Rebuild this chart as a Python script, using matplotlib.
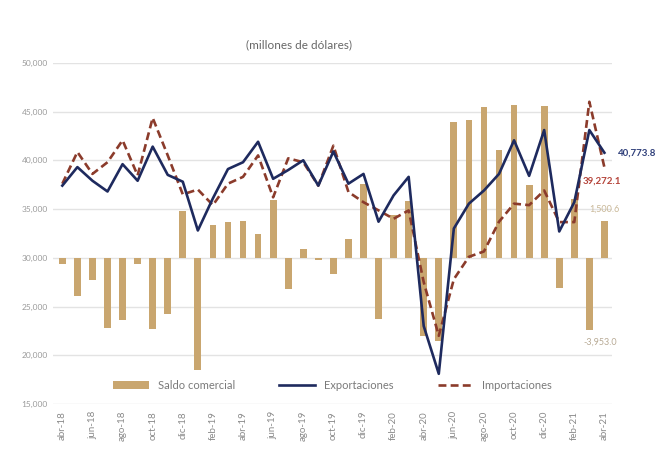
import numpy as np
import matplotlib
matplotlib.use('Agg')
import matplotlib.pyplot as plt

plt.rcParams['font.family'] = ['Lato', 'DejaVu Sans']

# monthly series, abr-18 .. abr-21 (millones de dolares)
meses = ['abr-18', 'may-18', 'jun-18', 'jul-18', 'ago-18', 'sep-18', 'oct-18',
         'nov-18', 'dic-18', 'ene-19', 'feb-19', 'mar-19', 'abr-19', 'may-19',
         'jun-19', 'jul-19', 'ago-19', 'sep-19', 'oct-19', 'nov-19', 'dic-19',
         'ene-20', 'feb-20', 'mar-20', 'abr-20', 'may-20', 'jun-20', 'jul-20',
         'ago-20', 'sep-20', 'oct-20', 'nov-20', 'dic-20', 'ene-21', 'feb-21',
         'mar-21', 'abr-21']

exportaciones = [37400, 39300, 37900, 36800, 39600, 37900, 41400, 38500, 37800,
                 32800, 36100, 39100, 39800, 41900, 38100, 39000, 40000, 37400,
                 40900, 37600, 38600, 33700, 36400, 38300, 23000, 18100, 33000,
                 35550, 36900, 38600, 42050, 38400, 43100, 32700, 35700, 43100,
                 40773.8]

importaciones = [37600, 40850, 38600, 39800, 42050, 38450, 44350, 40500, 36500,
                 37000, 35400, 37600, 38300, 40500, 36200, 40200, 39800, 37400,
                 41500, 36750, 35700, 34860, 34000, 34860, 27500, 22000, 27800,
                 30100, 30650, 33700, 35550, 35400, 36900, 33660, 33660, 46000,
                 39272.1]

# saldo comercial, drawn on the same scale from the 30,000 base line
saldo = [-600, -3870, -2230, -7220, -6370, -600, -7290, -5750, 4780,
         -11500, 3390, 3660, 3770, 2460, 5890, -3180, 920, -270,
         -1640, 1950, 7600, -6260, 4340, 5800, -8040, -8490, 13940,
         14100, 15470, 11020, 15710, 7430, 15580, -3110, 6060, -7360,
         3730]
base = 30000

x = np.arange(len(meses))

fig = plt.figure(figsize=(6.58, 4.72), dpi=100)
ax = fig.add_axes([0.081, 0.144, 0.849, 0.723])

b = ax.bar(x, saldo, 0.45, bottom=base, color='#C9A66F',
           label='Saldo comercial', zorder=2)
l1, = ax.plot(x, exportaciones, color='#1E2A5E', lw=1.9,
              label='Exportaciones', zorder=4)
l2, = ax.plot(x, importaciones, color='#8B3B2B', lw=1.9, ls=(0, (3, 1.6)),
              label='Importaciones', zorder=3)

ax.set_ylim(15000, 50000)
ax.set_xlim(-0.6, 36.5)
ax.set_yticks(np.arange(15000, 50001, 5000))
ax.yaxis.set_major_formatter(matplotlib.ticker.FuncFormatter(
    lambda v, p: f'{v:,.0f}'))
ax.grid(axis='y', color='#E3E3E3', lw=1, zorder=0)
ax.set_axisbelow(True)
for s in ax.spines.values():
    s.set_visible(False)
ax.tick_params(axis='y', length=0, labelsize=6, labelcolor='#9A9A9A', pad=4)
ax.set_xticks(x[::2])
ax.set_xticklabels(meses[::2], rotation=90, fontsize=7, color='#8A8A8A')
ax.tick_params(axis='x', length=0, pad=5)

fig.text(0.455, 0.905, '(millones de dólares)', ha='center', va='center',
         fontsize=8.5, color='#666666')

# end-of-series labels
ax.annotate('40,773.8', (x[-1], exportaciones[-1]), xytext=(10, 0),
            textcoords='offset points', ha='left', va='center', fontsize=7,
            color='#2F3F7A', fontweight='bold', annotation_clip=False)
ax.annotate('39,272.1', (x[-1], importaciones[-1]), xytext=(-2, -10),
            textcoords='offset points', ha='center', va='center', fontsize=7,
            color='#B5443A', fontweight='bold', annotation_clip=False)
ax.annotate('1,500.6', (x[-1], base + saldo[-1]), xytext=(0, 9),
            textcoords='offset points', ha='center', va='center', fontsize=6.5,
            color='#C9B898', annotation_clip=False)
ax.annotate('-3,953.0', (x[-2], base + saldo[-2]), xytext=(8, -9),
            textcoords='offset points', ha='center', va='center', fontsize=6.5,
            color='#B8AA95', annotation_clip=False)

leg = ax.legend([b, l1, l2], ['Saldo comercial', 'Exportaciones',
                              'Importaciones'],
                loc='lower center', bbox_to_anchor=(0.5, 0.02), ncol=3,
                frameon=False, fontsize=8, handlelength=3.2, columnspacing=4,
                borderaxespad=0.2)
for t in leg.get_texts():
    t.set_color('#7A7A7A')

fig.savefig('out.png', dpi=100)
